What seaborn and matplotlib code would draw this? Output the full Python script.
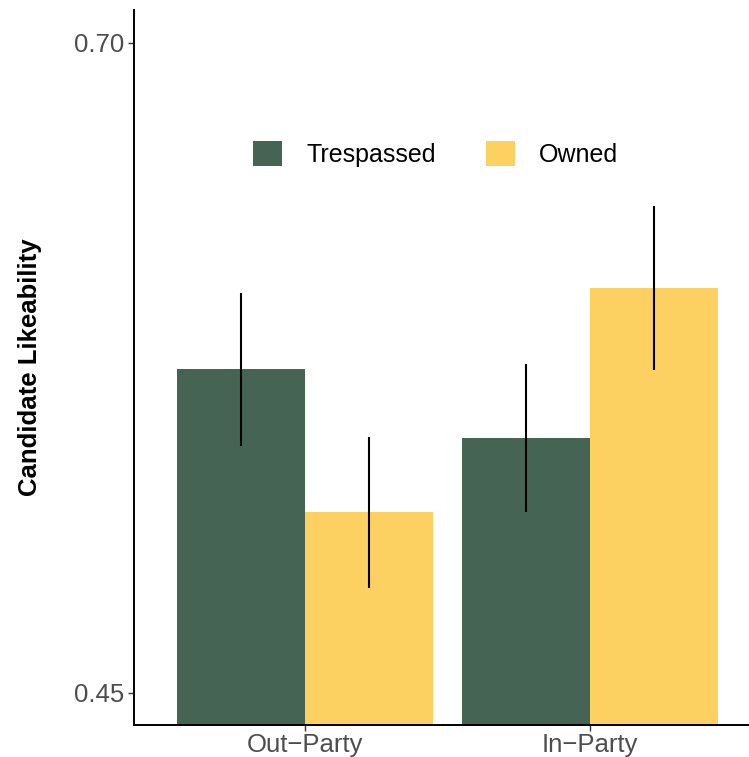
import matplotlib
matplotlib.use("Agg")
import matplotlib.pyplot as plt
import seaborn as sns
import pandas as pd
from matplotlib.patches import Patch

# Data
groups = ["Out\u2212Party", "In\u2212Party"]
conditions = ["Trespassed", "Owned"]
trespassed_mean = [0.5745, 0.5480]
owned_mean = [0.5195, 0.6057]
trespassed_lo = [0.5450, 0.5195]
trespassed_hi = [0.6036, 0.5764]
owned_lo = [0.4903, 0.5741]
owned_hi = [0.5484, 0.6372]
y_ticks = [0.45, 0.70]
colors = {"Trespassed": "#466454", "Owned": "#FDD062"}

df = pd.DataFrame({
    "group": groups * 2,
    "condition": ["Trespassed"] * 2 + ["Owned"] * 2,
    "likeability": trespassed_mean + owned_mean,
    "lo": trespassed_lo + owned_lo,
    "hi": trespassed_hi + owned_hi,
})

sns.set_style("white")
plt.rcParams["font.family"] = ["Liberation Sans", "DejaVu Sans"]

fig = plt.figure(figsize=(7.49, 7.57), dpi=100)
ax = fig.add_axes([0.1793, 0.0423, 0.8207, 0.9445])

sns.barplot(data=df, x="group", y="likeability", hue="condition",
            order=groups, hue_order=conditions, palette=colors,
            width=0.9, errorbar=None, saturation=1, legend=False,
            linewidth=0, edgecolor="none", ax=ax)

# Confidence intervals
offsets = {"Trespassed": -0.225, "Owned": 0.225}
for _, row in df.iterrows():
    x = groups.index(row["group"]) + offsets[row["condition"]]
    ax.vlines(x, row["lo"], row["hi"], color="black", linewidth=1.5, zorder=3)

ax.set_xlim(-0.6, 1.558)
ax.set_ylim(0.4376, 0.7126)
ax.set_yticks(y_ticks)
ax.set_yticklabels([f"{t:.2f}" for t in y_ticks])

ax.set_xlabel("")
ax.set_ylabel("Candidate Likeability", fontsize=18.5, fontweight="bold",
              color="black", labelpad=23)

ax.tick_params(axis="both", labelsize=18.5, labelcolor="#4D4D4D",
               color="#333333", length=4, width=1, direction="out",
               bottom=True, left=True)
ax.tick_params(axis="x", pad=2)

for side in ["top", "right"]:
    ax.spines[side].set_visible(False)
for side in ["left", "bottom"]:
    ax.spines[side].set_color("black")
    ax.spines[side].set_linewidth(1.4)

handles = [Patch(facecolor=colors[c], edgecolor="none", label=c) for c in conditions]
fig.legend(handles=handles, loc="center", bbox_to_anchor=(435.5 / 749, 1 - 154 / 757),
           ncol=2, frameon=False, fontsize=18, handlelength=1.16, handleheight=1.16,
           handletextpad=0.96, columnspacing=2.0, borderpad=0, labelcolor="black")

fig.savefig("out.png", dpi=100)
